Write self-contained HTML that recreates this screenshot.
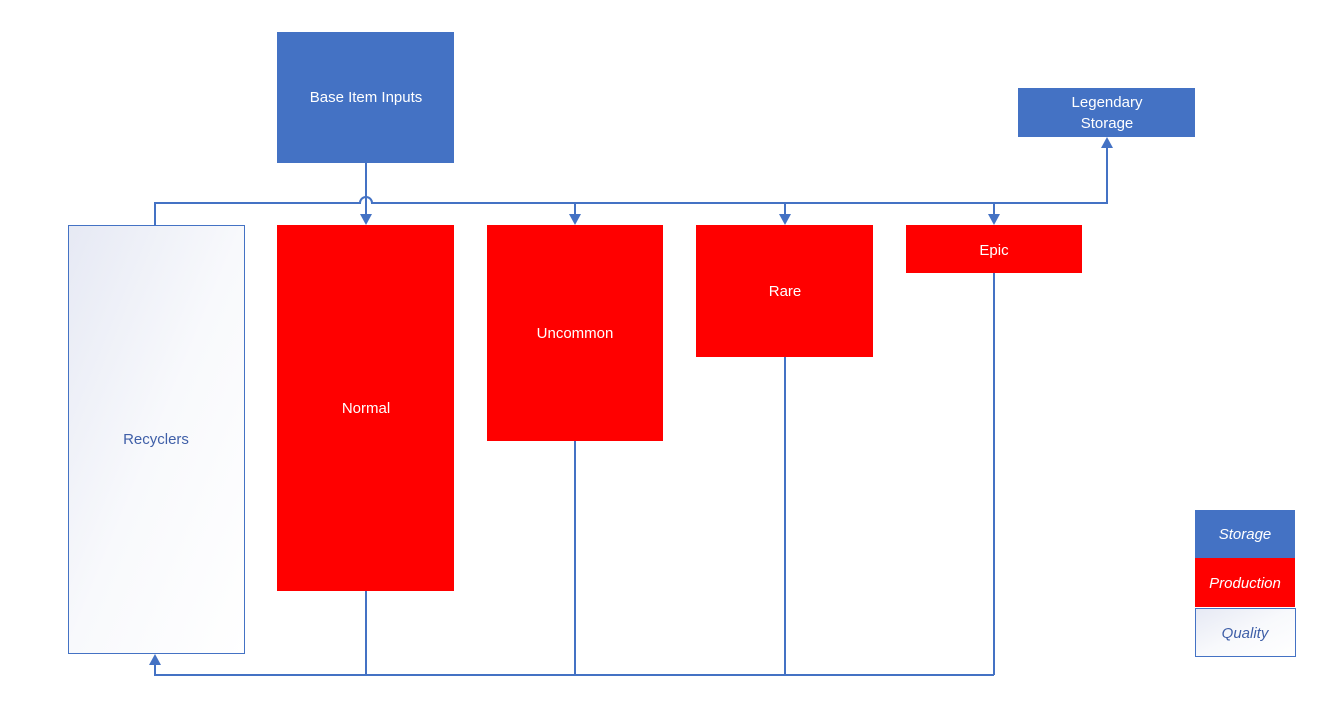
<!DOCTYPE html>
<html><head><style>body{margin:0;background:#fff}</style></head><body>
<svg width="1330" height="705" xmlns="http://www.w3.org/2000/svg" font-family="Liberation Sans, sans-serif" font-size="15">
<defs>
<linearGradient id="g" x1="0" y1="0" x2="1" y2="1"><stop offset="0" stop-color="#e6e9f4"/><stop offset="0.5" stop-color="#f8f9fc"/><stop offset="1" stop-color="#ffffff"/></linearGradient>
<marker id="a" markerWidth="8" markerHeight="8" refX="4" refY="7" orient="auto-start-reverse" markerUnits="userSpaceOnUse"><path d="M0,0 L8,0 L4,8z" fill="#4472c4" transform="rotate(0)"/></marker>
</defs>
<g stroke="#4472c4" stroke-width="2" fill="none">
<path d="M155,225 V203 H360 A6,6 0 0 1 372,203 H1107 V146"/>
<path d="M366,163 V216"/>
<path d="M575,203 V216 M785,203 V216 M994,203 V216"/>
<path d="M366,591 V675 M575,441 V675 M785,357 V675 M994,273 V675 M994,675 H155 V664"/>
</g>
<g fill="#4472c4">
<path d="M360,214 L372,214 L366,225z"/>
<path d="M569,214 L581,214 L575,225z"/>
<path d="M779,214 L791,214 L785,225z"/>
<path d="M988,214 L1000,214 L994,225z"/>
<path d="M1101,148 L1113,148 L1107,137z"/>
<path d="M149,665 L161,665 L155,654z"/>
</g>
<rect x="277" y="32" width="177" height="131" fill="#4472c4"/>
<rect x="1018" y="88" width="177" height="49" fill="#4472c4"/>
<rect x="68.5" y="225.5" width="176" height="428" fill="url(#g)" stroke="#4472c4"/>
<rect x="277" y="225" width="177" height="366" fill="#ff0000"/>
<rect x="487" y="225" width="176" height="216" fill="#ff0000"/>
<rect x="696" y="225" width="177" height="132" fill="#ff0000"/>
<rect x="906" y="225" width="176" height="48" fill="#ff0000"/>
<rect x="1195" y="510" width="100" height="48" fill="#4472c4"/>
<rect x="1195" y="558" width="100" height="49" fill="#ff0000"/>
<rect x="1195.5" y="608.5" width="100" height="48" fill="url(#g)" stroke="#4472c4"/>
<g fill="#fff" text-anchor="middle">
<text x="366" y="102">Base Item Inputs</text>
<text x="1107" y="107">Legendary</text>
<text x="1107" y="128">Storage</text>
<text x="366" y="413">Normal</text>
<text x="575" y="338">Uncommon</text>
<text x="785" y="296">Rare</text>
<text x="994" y="255">Epic</text>
<text x="1245" y="539" font-style="italic">Storage</text>
<text x="1245" y="588" font-style="italic">Production</text>
</g>
<g fill="#3f5fa8" text-anchor="middle">
<text x="156" y="444">Recyclers</text>
<text x="1245" y="638" font-style="italic">Quality</text>
</g>
</svg>
</body></html>
